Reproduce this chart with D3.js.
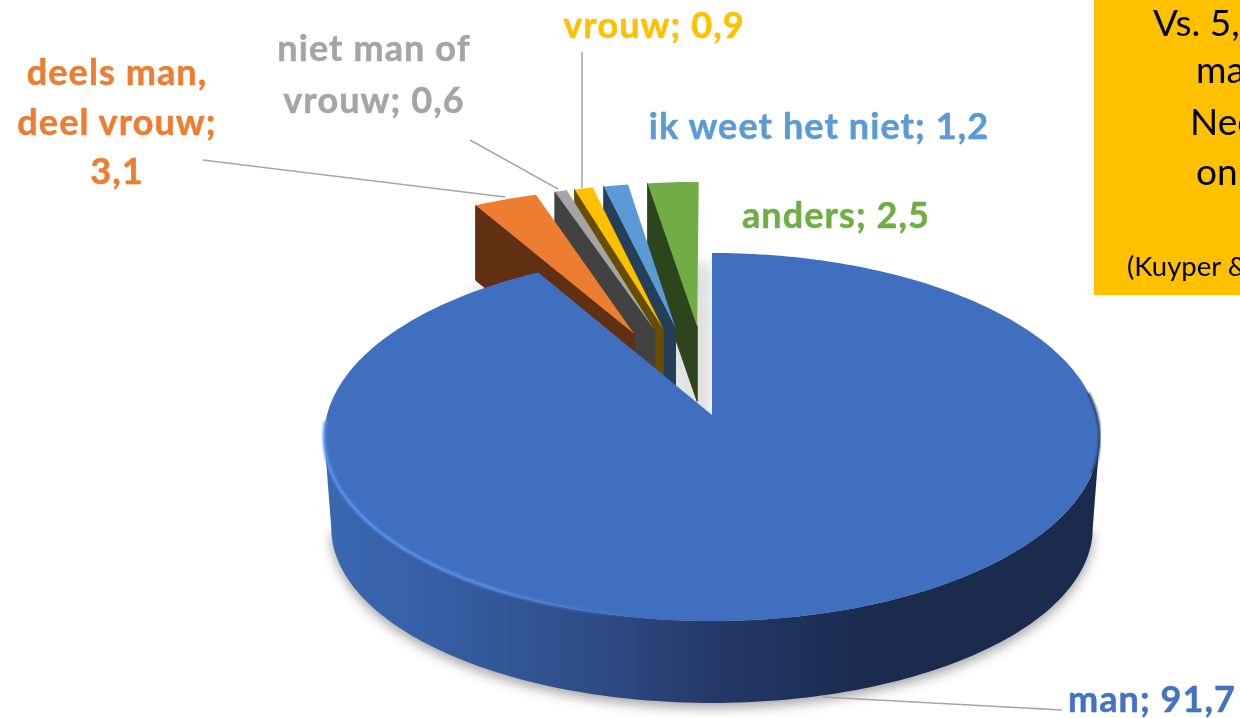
<!DOCTYPE html>
<html>
<head>
<meta charset="utf-8">
<script src="https://cdn.jsdelivr.net/npm/d3@7"></script>
<style>
  html, body { margin: 0; background: #fff; overflow: hidden; }
  text { font-family: Lato, "Open Sans", sans-serif; }
  .label { font-weight: 700; font-size: 36px; text-anchor: middle; letter-spacing: 1.1px; stroke-width: 0.5px; }
  .note { fill: #000; font-size: 36px; }
</style>
</head>
<body>
<svg id="chart" width="1240" height="718"></svg>
<script>
var categories = ["man", "deels man, deel vrouw", "niet man of vrouw", "vrouw", "ik weet het niet", "anders"];
var values = [91.7, 3.1, 0.6, 0.9, 1.2, 2.5];
var valueLabels = ["91,7", "3,1", "0,6", "0,9", "1,2", "2,5"];
// text box runs off the right edge of the picture, only this part can be read
var noteLines = ["Vs. 5,", "ma", "Nee", "on", "(Kuyper &"];

var topColors = ["#416fbf", "#ED7D31", "#A5A5A5", "#FFC000", "#5B9BD5", "#70AD47"];
var sideColors = ["#1a2b4d", "#612f12", "#424242", "#664d00", "#243f57", "#2c451c"];
var labelColors = ["#4472C4", "#ED7D31", "#A5A5A5", "#FFC000", "#5B9BD5", "#70AD47"];

// label lines and leader lines, same order as categories
var labelLayout = [
  { lines: ["man; 91,7"], x: 1152, y: [712], leader: [[822, 697], [1062, 710]] },
  { lines: ["deels man,", "deel vrouw;", "3,1"], x: 117, y: [85, 135, 184], leader: [[203, 160], [505, 197]] },
  { lines: ["niet man of", "vrouw; 0,6"], x: 374, y: [61, 113], leader: [[470, 140], [558, 189]] },
  { lines: ["vrouw; 0,9"], x: 654, y: [38], leader: [[582, 52], [582, 188]] },
  { lines: ["ik weet het niet; 1,2"], x: 819, y: [139], leader: null },
  { lines: ["anders; 2,5"], x: 836, y: [228], leader: null }
];

var noteLayout = [
  { x: 1153, y: 36, size: 37 },
  { x: 1196, y: 83, size: 37 },
  { x: 1190, y: 135, size: 37 },
  { x: 1196, y: 185, size: 37 },
  { x: 1127, y: 276, size: 27.5 }
];

var svg = d3.select("#chart");
var defs = svg.append("defs");

// perspective of the pie plane
var persp = 0.1196, explode = 0.52, sliceDepth = 75;
var topPlane = { x0: 712, y0: 415, bx: 385, by: 181.4 };
var basePlane = { x0: 712, y0: 507, bx: 378, by: 172.5 };

function project(u, v, plane) {
  var w = 1 + persp * v;
  return [plane.x0 + plane.bx * u / w, plane.y0 - plane.by * v / w];
}

var arcs = d3.pie().sort(null).startAngle(0).endAngle(2 * Math.PI)(values);
var line = d3.line();

function arcPoints(a0, a1, off, plane) {
  var n = Math.max(2, Math.ceil(Math.abs(a1 - a0) / 0.02));
  return d3.range(n + 1).map(function(i) {
    var a = a0 + (a1 - a0) * i / n;
    return project(off[0] + Math.sin(a), off[1] + Math.cos(a), plane);
  });
}

function lowered(p) { return [p[0], p[1] + sliceDepth]; }

// filters and gradients
defs.append("filter").attr("id", "blurBig")
  .attr("x", "-20%").attr("y", "-20%").attr("width", "140%").attr("height", "140%")
  .append("feGaussianBlur").attr("stdDeviation", 6);
defs.append("filter").attr("id", "blurEdge")
  .attr("x", "-5%").attr("y", "-5%").attr("width", "110%").attr("height", "110%")
  .append("feGaussianBlur").attr("stdDeviation", 1);

function hGradient(id, stops) {
  var g = defs.append("linearGradient").attr("id", id)
    .attr("gradientUnits", "userSpaceOnUse")
    .attr("x1", 324).attr("x2", 1100).attr("y1", 0).attr("y2", 0);
  stops.forEach(function(s) {
    g.append("stop").attr("offset", s[0]).attr("stop-color", s[1]).attr("stop-opacity", s[2] === undefined ? 1 : s[2]);
  });
}
hGradient("sideFill", [[0, "#3b68b2"], [0.14, "#365fa5"], [0.37, "#2d4a82"], [0.5, "#24396a"], [0.7, "#1a2b4d"], [1, "#1a2b4d"]]);
hGradient("rimLight", [[0, "#5a93ec"], [0.2, "#5a93ec"], [0.4, "#5a93ec", 0]]);

var small = arcs.slice(1).map(function(d, i) {
  var mid = (d.startAngle + d.endAngle) / 2;
  var off = [explode * Math.sin(mid), explode * Math.cos(mid)];
  var outer = arcPoints(d.startAngle, d.endAngle, off, topPlane);
  var apex = project(off[0], off[1], topPlane);
  return { i: i + 1, outer: outer, apex: apex };
}).reverse();

// shadows
var shadows = svg.append("g").attr("filter", "url(#blurBig)");
shadows.selectAll(".sliceShadow").data(small).enter().append("path")
  .attr("d", function(d) { return line(d.outer.concat([d.apex]).map(lowered)) + "Z"; })
  .attr("transform", "translate(5,14)")
  .attr("fill", "#000").attr("stroke", "#000").attr("stroke-width", 18)
  .attr("stroke-linejoin", "round")
  .attr("opacity", 0.12);

var man = arcs[0];
var baseArc = arcPoints(Math.PI / 2 + persp, 1.5 * Math.PI - persp, [0, 0], basePlane);
var topArc = arcPoints(Math.PI / 2 + persp, 1.5 * Math.PI - persp, [0, 0], topPlane);

shadows.append("path")
  .attr("d", line(baseArc) + "Z")
  .attr("transform", "translate(0,5)")
  .attr("fill", "#000").attr("opacity", 0.35);

// small slices, back to front
var sliceG = svg.selectAll(".slice").data(small).enter().append("g").attr("class", "slice");
sliceG.append("path")
  .attr("d", function(d) {
    var corner = d.outer[0];
    return line([corner, d.apex, lowered(d.apex), lowered(corner)]) + "Z";
  })
  .attr("fill", function(d) { return sideColors[d.i]; })
  .attr("stroke", function(d) { return sideColors[d.i]; })
  .attr("stroke-linejoin", "round")
  .attr("stroke-width", 1);
sliceG.append("path")
  .attr("d", function(d) { return line(d.outer.concat([d.apex])) + "Z"; })
  .attr("fill", function(d) { return topColors[d.i]; });

// main slice
svg.append("path")
  .attr("d", line(topArc.concat(baseArc.slice().reverse())) + "Z")
  .attr("fill", "url(#sideFill)");
svg.append("path")
  .attr("d", line(arcPoints(man.startAngle, man.endAngle, [0, 0], topPlane).concat([project(0, 0, topPlane)])) + "Z")
  .attr("fill", topColors[0]);
svg.append("path")
  .attr("d", line(arcPoints(Math.PI * 0.98, Math.PI * 1.49, [0, 0], topPlane)))
  .attr("fill", "none").attr("stroke", "url(#rimLight)").attr("stroke-width", 3)
  .attr("filter", "url(#blurEdge)");
svg.append("path")
  .attr("d", line(arcPoints(Math.PI * 0.46, Math.PI * 0.6, [0, 0], topPlane)))
  .attr("fill", "none").attr("stroke", "#1a2b4d").attr("stroke-width", 2)
  .attr("filter", "url(#blurEdge)");

// leader lines
svg.selectAll(".leader").data(labelLayout.filter(function(d) { return d.leader; }))
  .enter().append("path")
  .attr("class", "leader")
  .attr("d", function(d) { return line(d.leader); })
  .attr("fill", "none").attr("stroke", "#a6a6a6").attr("stroke-width", 1.5);

// data labels
labelLayout.forEach(function(d, i) {
  d.lines.forEach(function(txt, j) {
    svg.append("text").attr("class", "label")
      .attr("x", d.x).attr("y", d.y[j])
      .attr("fill", labelColors[i])
      .attr("stroke", labelColors[i])
      .text(txt);
  });
});

// orange text box
svg.append("rect")
  .attr("x", 1094).attr("y", 0).attr("width", 146).attr("height", 295)
  .attr("fill", "#FFC000");
svg.selectAll(".note").data(noteLines).enter().append("text")
  .attr("class", "note")
  .attr("x", function(d, i) { return noteLayout[i].x; })
  .attr("y", function(d, i) { return noteLayout[i].y; })
  .style("font-size", function(d, i) { return noteLayout[i].size + "px"; })
  .text(function(d) { return d; });
</script>
</body>
</html>
